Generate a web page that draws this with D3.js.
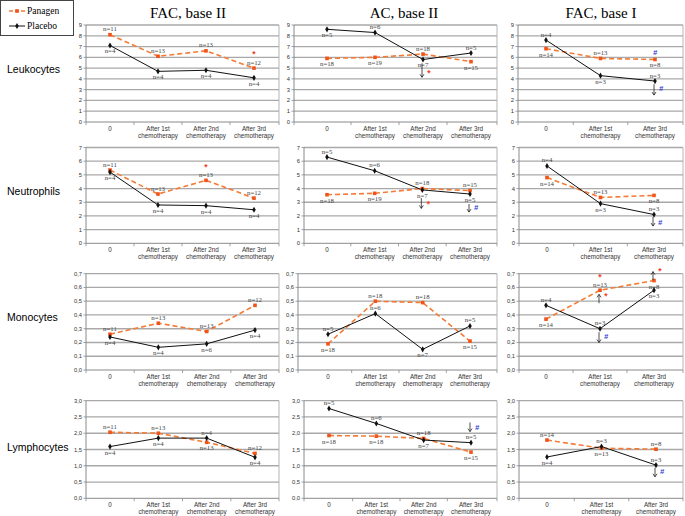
<!DOCTYPE html>
<html><head><meta charset="utf-8">
<script src="https://cdn.jsdelivr.net/npm/d3@7"></script>
<style>body{margin:0;background:#fff}svg{display:block}</style>
</head><body>
<script>
// ---------- data ----------
const rowNames = ["Leukocytes", "Neutrophils", "Monocytes", "Lymphocytes"];
const colTitles = ["FAC, base II", "AC, base II", "FAC, base I"];
const cats4 = ["0", "After 1st|chemotherapy", "After 2nd|chemotherapy", "After 3rd|chemotherapy"];
const cats3 = ["0", "After 1st|chemotherapy", "After 3rd|chemotherapy"];
const seriesNames = ["Panagen", "Placebo"];
const yMax = [9, 7, 0.7, 3.0];
const yStep = [1, 1, 0.1, 0.5];

// values: [column][time point]
const panagenLeuko  = [[8.1, 6.1, 6.6, 5.0], [5.9, 6.0, 6.3, 5.6], [6.8, 5.9, 5.8]];
const placeboLeuko  = [[7.1, 4.7, 4.8, 4.1], [8.6, 8.3, 5.8, 6.4], [7.6, 4.3, 3.8]];
const panagenNeutro = [[5.35, 3.6, 4.6, 3.3], [3.55, 3.65, 4.0, 3.85], [4.8, 3.35, 3.5]];
const placeboNeutro = [[5.2, 2.8, 2.75, 2.45], [6.3, 5.3, 3.9, 3.6], [5.65, 2.9, 2.1]];
const panagenMono   = [[0.26, 0.34, 0.28, 0.47], [0.19, 0.50, 0.49, 0.21], [0.37, 0.58, 0.65]];
const placeboMono   = [[0.24, 0.165, 0.19, 0.29], [0.26, 0.41, 0.15, 0.32], [0.47, 0.30, 0.58]];
const panagenLympho = [[2.03, 2.0, 1.72, 1.38], [1.93, 1.91, 1.84, 1.42], [1.79, 1.54, 1.51]];
const placeboLympho = [[1.59, 1.85, 1.85, 1.26], [2.76, 2.3, 1.79, 1.71], [1.27, 1.59, 1.02]];

// group sizes: [row][column][time point]
const nPanagen = [
  [[11, 13, 13, 12], [18, 19, 18, 15], [14, 13, 8]],
  [[11, 13, 13, 12], [18, 19, 18, 15], [14, 13, 8]],
  [[11, 13, 13, 12], [18, 18, 18, 15], [14, 13, 8]],
  [[11, 13, 13, 12], [18, 18, 18, 15], [14, 13, 8]]
];
const nPlacebo = [
  [[4, 4, 4, 4], [5, 6, 7, 5], [4, 3, 3]],
  [[4, 4, 4, 4], [5, 6, 7, 5], [4, 3, 3]],
  [[4, 4, 6, 4], [5, 6, 7, 5], [4, 3, 3]],
  [[4, 4, 4, 4], [5, 6, 7, 5], [4, 3, 3]]
];

// significance marks (values in data units)
const sigMarks = [
  {r: 0, c: 0, i: 3, sym: "*", at: 6.35},
  {r: 0, c: 1, i: 2, sym: "*", from: 5.45, to: 4.15, at: 4.55},
  {r: 0, c: 2, i: 2, sym: "#", at: 6.45},
  {r: 0, c: 2, i: 2, sym: "#", from: 3.5, to: 2.5, at: 3.1},
  {r: 1, c: 0, i: 2, sym: "*", at: 5.6},
  {r: 1, c: 1, i: 2, sym: "*", from: 3.3, to: 2.55, at: 2.9},
  {r: 1, c: 1, i: 3, sym: "#", from: 2.87, to: 2.28, at: 2.65},
  {r: 1, c: 2, i: 2, sym: "#", from: 1.92, to: 1.26, at: 1.55},
  {r: 2, c: 2, i: 1, sym: "*", at: 0.68},
  {r: 2, c: 2, i: 1, sym: "*", from: 0.485, to: 0.55, at: 0.54},
  {r: 2, c: 2, i: 1, sym: "#", from: 0.275, to: 0.2, at: 0.24},
  {r: 2, c: 2, i: 2, sym: "*", from: 0.655, to: 0.715, at: 0.72},
  {r: 3, c: 1, i: 3, sym: "#", from: 2.33, to: 2.05, at: 2.17},
  {r: 3, c: 2, i: 2, sym: "#", from: 0.94, to: 0.66, at: 0.81}
];

// ---------- layout (not data) ----------
const panagenVals = [panagenLeuko, panagenNeutro, panagenMono, panagenLympho];
const placeboVals = [placeboLeuko, placeboNeutro, placeboMono, placeboLympho];
const labelSidePan = [
  ["aaaa", "bbab", "bab"],
  ["aaaa", "bbaa", "bab"],
  ["aaaa", "baab", "bab"],
  ["aaba", "bbab", "aba"]
];
const labelSidePla = [
  ["bbbb", "baba", "aba"],
  ["bbbb", "aabb", "aba"],
  ["bbbb", "aaba", "aab"],
  ["bbab", "aaba", "baa"]
];
const rowBox = [
  {top: 25, bottom: 122, label: 69},
  {top: 147.5, bottom: 243.3, label: 191},
  {top: 273.7, bottom: 370, label: 317},
  {top: 400.7, bottom: 498.3, label: 447}
];
const colBox = [
  [{axis: 86, first: 110, last: 254, right: 279}, {axis: 294, first: 327, last: 471, right: 497}, {axis: 518, first: 546, last: 655, right: 683}],
  [{axis: 86, first: 110, last: 254, right: 279}, {axis: 304, first: 327, last: 470, right: 497}, {axis: 519, first: 547, last: 654, right: 683}],
  [{axis: 86, first: 110, last: 255, right: 279}, {axis: 298, first: 328, last: 470, right: 497}, {axis: 519, first: 546, last: 654, right: 683}],
  [{axis: 86, first: 110, last: 255, right: 279}, {axis: 304, first: 329, last: 471, right: 497}, {axis: 519, first: 547, last: 656, right: 683}]
];
const titleX = [188, 404, 601];

const ORANGE = "#f47b35", ORANGE_M = "#f0541a", BLACK = "#111";
const SANS = "'Liberation Sans', Arial, sans-serif";
const SERIF = "'Liberation Serif', 'Times New Roman', serif";

const svg = d3.select("body").append("svg").attr("width", 685).attr("height", 516)
  .style("background", "#fff");

colTitles.forEach((t, c) => {
  svg.append("text").attr("x", titleX[c]).attr("y", 18).attr("text-anchor", "middle")
    .attr("font-family", SERIF).attr("font-size", 15).attr("fill", "#000").text(t);
});
rowNames.forEach((t, r) => {
  svg.append("text").attr("x", 7).attr("y", rowBox[r].label + 3.6)
    .attr("font-family", SANS).attr("font-size", 10.5).attr("fill", "#000").text(t);
});

function fmtTick(r, v) {
  if (r >= 2) return d3.format(".1f")(v).replace(".", ",");
  return d3.format("d")(v);
}

function arrow(g, x, y1, y2) {
  g.append("line").attr("x1", x).attr("x2", x).attr("y1", y1).attr("y2", y2)
    .attr("stroke", "#222").attr("stroke-width", 0.8);
  const d = y2 > y1 ? 1 : -1;
  g.append("path").attr("d", `M${x - 2},${y2 - 3 * d} L${x},${y2} L${x + 2},${y2 - 3 * d}`)
    .attr("fill", "none").attr("stroke", "#222").attr("stroke-width", 0.8);
}

for (let r = 0; r < 4; r++) {
  for (let c = 0; c < 3; c++) {
    const rb = rowBox[r], cb = colBox[r][c];
    const cats = c === 2 ? cats3 : cats4;
    const g = svg.append("g");
    const x = d3.scalePoint().domain(cats).range([cb.first, cb.last]);
    const y = d3.scaleLinear().domain([0, yMax[r]]).range([rb.bottom, rb.top]);
    const ticks = d3.range(0, yMax[r] + yStep[r] / 2, yStep[r]);

    ticks.forEach(t => {
      if (t === 0) return;
      g.append("line").attr("x1", cb.axis).attr("x2", cb.right).attr("y1", y(t)).attr("y2", y(t))
        .attr("stroke", "#a9a9a9").attr("stroke-width", 1.3);
    });
    g.append("line").attr("x1", cb.right).attr("x2", cb.right).attr("y1", rb.top).attr("y2", rb.bottom)
      .attr("stroke", "#b5b5b5").attr("stroke-width", 1);
    g.append("line").attr("x1", cb.axis).attr("x2", cb.axis).attr("y1", rb.top).attr("y2", rb.bottom)
      .attr("stroke", "#8a8a8a").attr("stroke-width", 1);
    ticks.forEach(t => {
      g.append("line").attr("x1", cb.axis - 2.5).attr("x2", cb.axis).attr("y1", y(t)).attr("y2", y(t))
        .attr("stroke", "#8a8a8a").attr("stroke-width", 0.8);
      g.append("text").attr("x", cb.axis - 4).attr("y", y(t) + 2).attr("text-anchor", "end")
        .attr("font-family", SANS).attr("font-size", 5.8).attr("fill", "#333").text(fmtTick(r, t));
    });
    g.append("line").attr("x1", cb.axis).attr("x2", cb.right).attr("y1", rb.bottom).attr("y2", rb.bottom)
      .attr("stroke", "#8a8a8a").attr("stroke-width", 1);
    const xt = [cb.axis];
    for (let k = 0; k < cats.length - 1; k++) xt.push((x(cats[k]) + x(cats[k + 1])) / 2);
    xt.push(cb.right);
    xt.forEach(v => g.append("line").attr("x1", v).attr("x2", v).attr("y1", rb.bottom).attr("y2", rb.bottom + 3)
      .attr("stroke", "#8a8a8a").attr("stroke-width", 0.8));
    cats.forEach(cat => {
      cat.split("|").forEach((p, k) => {
        g.append("text").attr("x", x(cat)).attr("y", rb.bottom + 8.5 + k * 7.6).attr("text-anchor", "middle")
          .attr("font-family", SANS).attr("font-size", 6.3).attr("fill", "#333").text(p);
      });
    });

    const pan = panagenVals[r][c], pla = placeboVals[r][c];
    const line = d3.line().x((d, i) => x(cats[i])).y(d => y(d));
    g.append("path").attr("d", line(pan)).attr("fill", "none").attr("stroke", ORANGE)
      .attr("stroke-width", 1.6).attr("stroke-dasharray", "5,3");
    g.append("path").attr("d", line(pla)).attr("fill", "none").attr("stroke", BLACK).attr("stroke-width", 1);
    pan.forEach((v, i) => g.append("rect").attr("x", x(cats[i]) - 1.8).attr("y", y(v) - 1.8)
      .attr("width", 3.6).attr("height", 3.6).attr("fill", ORANGE_M));
    pla.forEach((v, i) => g.append("path").attr("d", d3.symbol(d3.symbolDiamond, 11)())
      .attr("transform", `translate(${x(cats[i])},${y(v)})`).attr("fill", BLACK));

    const nlab = (vals, ns, sides) => vals.forEach((v, i) => {
      const above = sides[i] === "a";
      g.append("text").attr("x", x(cats[i])).attr("y", y(v) + (above ? -3.5 : 8))
        .attr("text-anchor", "middle").attr("font-family", SERIF).attr("font-size", 6.8)
        .attr("fill", "#444").text("n=" + ns[i]);
    });
    nlab(pan, nPanagen[r][c], labelSidePan[r][c]);
    nlab(pla, nPlacebo[r][c], labelSidePla[r][c]);

    sigMarks.filter(m => m.r === r && m.c === c).forEach(m => {
      const px = x(cats[m.i]);
      const hasArrow = m.from !== undefined;
      if (hasArrow) arrow(g, px - 1, y(m.from), y(m.to));
      const red = m.sym === "*";
      g.append("text").attr("x", hasArrow ? px + 6 : px).attr("y", y(m.at) + (red ? 3.2 : 2.5))
        .attr("text-anchor", "middle")
        .attr("font-family", SANS).attr("font-weight", "bold")
        .attr("font-style", red ? "normal" : "italic")
        .attr("font-size", red ? 8.5 : 7.5).attr("fill", red ? "#f2401a" : "#2b3bd6").text(m.sym);
    });
  }
}

// legend
const lg = svg.append("g");
lg.append("rect").attr("x", 0.5).attr("y", 0.5).attr("width", 73).attr("height", 35)
  .attr("fill", "#fff").attr("stroke", "#444").attr("stroke-width", 1);
lg.append("line").attr("x1", 9).attr("x2", 25).attr("y1", 11).attr("y2", 11)
  .attr("stroke", ORANGE).attr("stroke-width", 1.6).attr("stroke-dasharray", "4,2");
lg.append("rect").attr("x", 15.2).attr("y", 9.2).attr("width", 3.6).attr("height", 3.6).attr("fill", ORANGE_M);
lg.append("line").attr("x1", 9).attr("x2", 25).attr("y1", 26).attr("y2", 26)
  .attr("stroke", BLACK).attr("stroke-width", 1);
lg.append("path").attr("d", d3.symbol(d3.symbolDiamond, 11)()).attr("transform", "translate(17,26)").attr("fill", BLACK);
seriesNames.forEach((s, k) => {
  lg.append("text").attr("x", 27).attr("y", 14 + k * 15).attr("font-family", SERIF)
    .attr("font-size", 9.5).attr("fill", "#000").text(s);
});
</script>
</body></html>
